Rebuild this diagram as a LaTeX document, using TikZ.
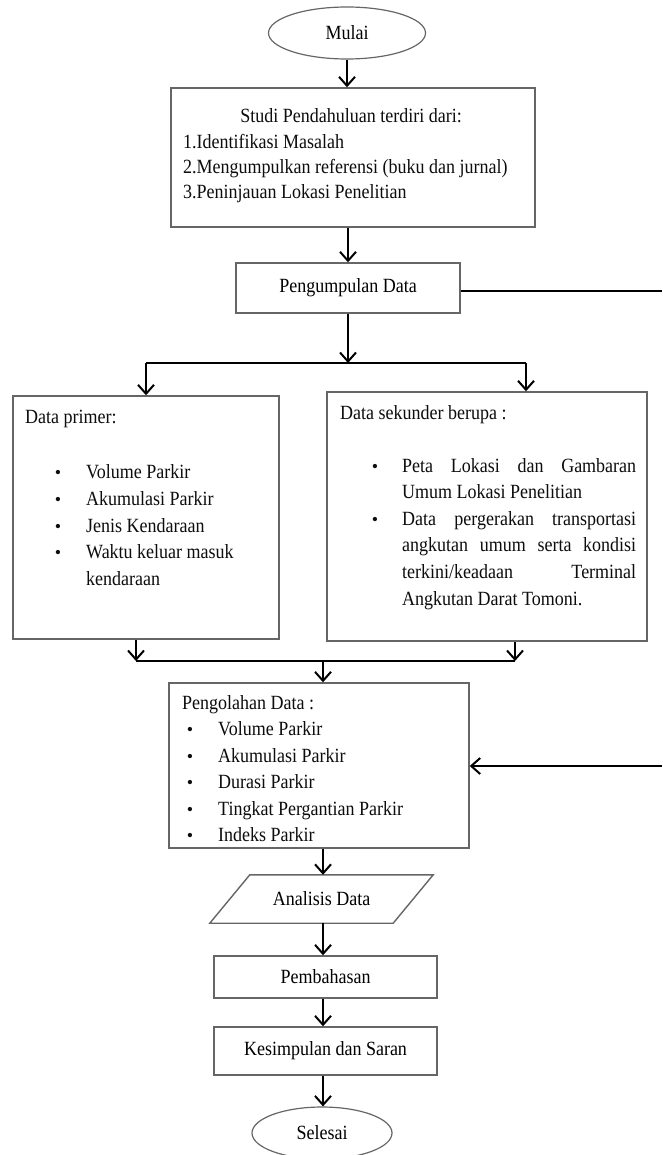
\documentclass[tikz,border=0pt]{standalone}
\usepackage{fontspec}
\usepackage{graphicx}
\setmainfont{Liberation Serif}
\usetikzlibrary{arrows.meta,shapes.geometric}
\newcommand{\vtx}[1]{\scalebox{1}[1.12]{#1}}
\tikzset{
  boxstyle/.style={draw=black!60, line width=1.4pt, rectangle, inner sep=0pt, font=\fontsize{18}{25}\selectfont},
  ellstyle/.style={draw=black!60, line width=1.2pt, ellipse, inner sep=0pt, font=\fontsize{18}{25}\selectfont},
  conn/.style={draw=black, line width=2pt},
  arr/.style={conn, -{Straight Barb[length=9pt,width=16pt,line width=2pt]}},
  txt/.style={inner sep=0pt, anchor=base west, font=\fontsize{18}{25}\selectfont, text=black!95},
  ctxt/.style={inner sep=0pt, anchor=base, font=\fontsize{18}{25}\selectfont, text=black!95},
  bul/.style={inner sep=0pt, anchor=base, font=\fontsize{18}{25}\selectfont, text=black!95},
}
\begin{document}
\begin{tikzpicture}[x=1pt,y=-1pt]
\useasboundingbox (0,0) rectangle (662,1155);
\fill[white] (0,0) rectangle (662,1155);

% shapes
\node[ellstyle, minimum width=157pt, minimum height=52pt] (mulai) at (347,33) {\vtx{Mulai}};
\node[boxstyle, minimum width=364pt, minimum height=139pt] (studi) at (353,157.5) {};
\node[boxstyle, minimum width=224pt, minimum height=50pt] (kumpul) at (348,288) {\vtx{Pengumpulan Data}};
\node[boxstyle, minimum width=266pt, minimum height=243pt] (primer) at (146,517.5) {};
\node[boxstyle, minimum width=320pt, minimum height=249pt] (sekunder) at (487,516.5) {};
\node[boxstyle, minimum width=300pt, minimum height=165pt] (olah) at (319,765.5) {};
\node[inner sep=0pt, minimum width=223pt, minimum height=48pt, font=\fontsize{18}{25}\selectfont] (analisis) at (321.5,899) {\vtx{Analisis Data}};
\draw[draw=black!60, line width=1.4pt] ([xshift=40pt]analisis.north west) -- (analisis.north east) -- ([xshift=-40pt]analisis.south east) -- (analisis.south west) -- cycle;
\node[boxstyle, minimum width=223pt, minimum height=42pt] (bahas) at (325.5,977) {\vtx{Pembahasan}};
\node[boxstyle, minimum width=223pt, minimum height=48pt] (kesim) at (325.5,1051) {\vtx{Kesimpulan dan Saran}};
\node[ellstyle, minimum width=140pt, minimum height=52pt] (selesai) at (322,1133) {\vtx{Selesai}};

% Studi texts
\node[ctxt] (s0) at (351,123) {\vtx{Studi Pendahuluan terdiri dari:}};
\node[txt] (s1) at (183,149) {\vtx{1.Identifikasi Masalah}};
\node[txt] (s2) at (183,174) {\vtx{2.Mengumpulkan referensi (buku dan jurnal)}};
\node[txt] (s3) at (183,199) {\vtx{3.Peninjauan Lokasi Penelitian}};

% Data primer texts
\node[txt] (p0) at (25,423) {\vtx{Data primer:}};
\node[bul] (pb1) at (58,478) {\textbullet};
\node[bul] (pb2) at (58,505) {\textbullet};
\node[bul] (pb3) at (58,532) {\textbullet};
\node[bul] (pb4) at (58,558) {\textbullet};
\node[txt] (p1) at (86,478) {\vtx{Volume Parkir}};
\node[txt] (p2) at (86,505) {\vtx{Akumulasi Parkir}};
\node[txt] (p3) at (86,532) {\vtx{Jenis Kendaraan}};
\node[txt] (p4) at (86,558) {\vtx{Waktu keluar masuk}};
\node[txt] (p5) at (86,585) {\vtx{kendaraan}};

% Data sekunder texts
\node[txt] (d0) at (340,419) {\vtx{Data sekunder berupa :}};
\node[bul] (db1) at (375,472) {\textbullet};
\node[bul] (db2) at (375,525) {\textbullet};
\node[txt] (d1) at (402,472) {\vtx{\makebox[234pt][s]{Peta Lokasi dan Gambaran}}};
\node[txt] (d2) at (402,498.6) {\vtx{Umum Lokasi Penelitian}};
\node[txt] (d3) at (402,525.2) {\vtx{\makebox[234pt][s]{Data pergerakan transportasi}}};
\node[txt] (d4) at (402,551.8) {\vtx{\makebox[234pt][s]{angkutan umum serta kondisi}}};
\node[txt] (d5) at (402,578.4) {\vtx{\makebox[234pt][s]{terkini/keadaan Terminal}}};
\node[txt] (d6) at (402,605) {\vtx{Angkutan Darat Tomoni.}};

% Pengolahan texts
\node[txt] (o0) at (182,709) {\vtx{Pengolahan Data :}};
\node[bul] (ob1) at (190,735) {\textbullet};
\node[bul] (ob2) at (190,762) {\textbullet};
\node[bul] (ob3) at (190,788) {\textbullet};
\node[bul] (ob4) at (190,815) {\textbullet};
\node[bul] (ob5) at (190,841) {\textbullet};
\node[txt] (o1) at (218,735) {\vtx{Volume Parkir}};
\node[txt] (o2) at (218,762) {\vtx{Akumulasi Parkir}};
\node[txt] (o3) at (218,788) {\vtx{Durasi Parkir}};
\node[txt] (o4) at (218,815) {\vtx{Tingkat Pergantian Parkir}};
\node[txt] (o5) at (218,841) {\vtx{Indeks Parkir}};

% coordinates
\coordinate (bl) at (146,363);
\coordinate (br) at (526,363);
\coordinate (ml) at (136,661);
\coordinate (mr) at (515,661);
\coordinate (mc) at (323,661);
\coordinate (lc) at (323,0);
\coordinate (re1) at (662,291);
\coordinate (re2) at (662,766);

% connectors
\draw[arr] (mulai.south) -- (mulai.south |- studi.north);
\draw[arr] (kumpul.north |- studi.south) -- (kumpul.north);
\draw[arr] (kumpul.south) -- (kumpul.south |- bl);
\draw[conn] (bl) -- (br);
\draw[arr] (bl) -- (primer.north);
\draw[arr] (br) -- (br |- sekunder.north);
\draw[arr] (ml |- primer.south) -- (ml);
\draw[arr] (mr |- sekunder.south) -- (mr);
\draw[conn] (ml) -- (mr);
\draw[arr] (mc) -- (mc |- olah.north);
\draw[arr] (lc |- olah.south) -- (lc |- analisis.north);
\draw[arr] (lc |- analisis.south) -- (lc |- bahas.north);
\draw[arr] (lc |- bahas.south) -- (lc |- kesim.north);
\draw[arr] (lc |- kesim.south) -- (lc |- selesai.north);
\draw[conn] (kumpul.east |- re1) -- (re1);
\draw[arr] (re2) -- (re2 -| olah.east);
\end{tikzpicture}
\end{document}
